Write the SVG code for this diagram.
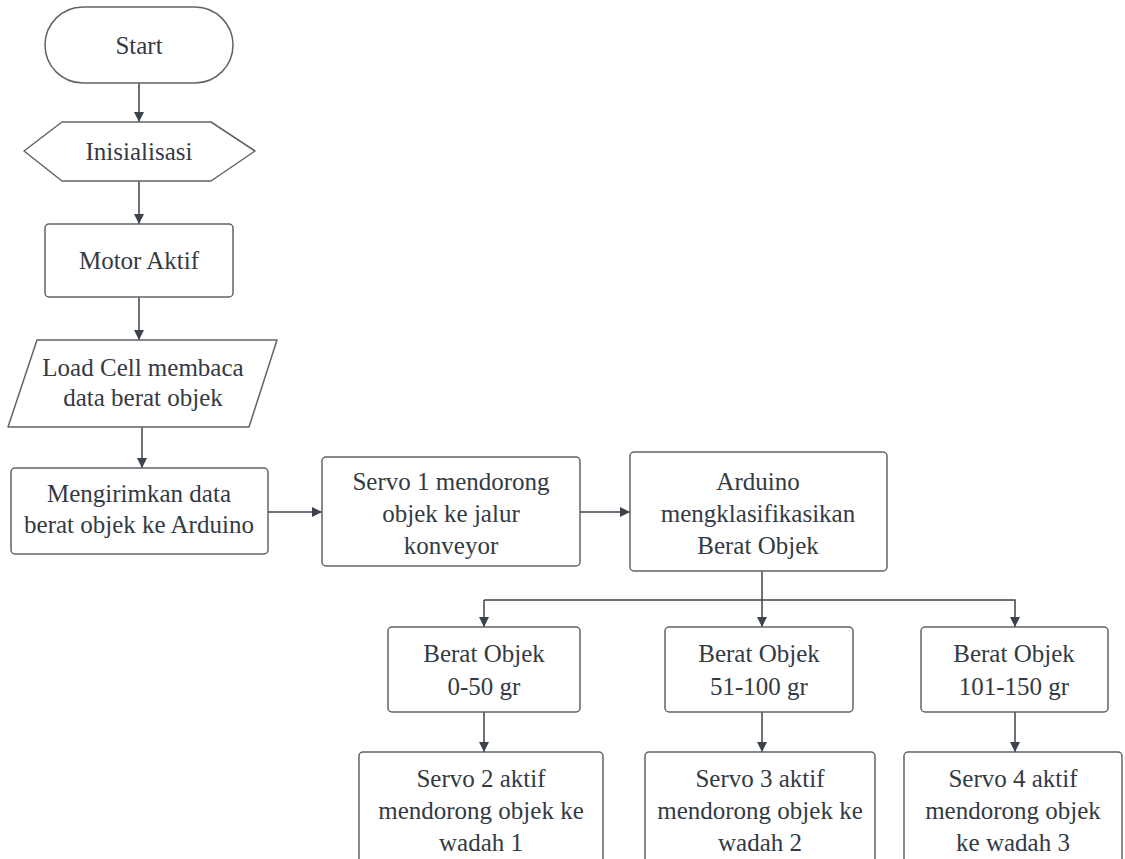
<svg xmlns="http://www.w3.org/2000/svg" width="1125" height="859" viewBox="0 0 1125 859">
<defs>
<marker id="ah" viewBox="0 0 10 10" refX="10" refY="5" markerWidth="10" markerHeight="10" markerUnits="userSpaceOnUse" orient="auto">
<path d="M0,0 L10,5 L0,10 Z" fill="#3d434c"/>
</marker>
<style>
.s{fill:#ffffff;stroke:#5f646b;stroke-width:1.5}
text{font-family:'Liberation Serif','Tinos','Times New Roman',serif;font-size:25px;fill:#333a44;text-anchor:middle}
.c{fill:none;stroke:#3d434c;stroke-width:1.5;marker-end:url(#ah)}
.l{fill:none;stroke:#3d434c;stroke-width:1.5}
</style>
</defs>
<rect width="1125" height="859" fill="#ffffff"/>
<g id="connectors">
<path class="c" d="M139,83 V122"/>
<path class="c" d="M139,181 V224"/>
<path class="c" d="M139,297 V340"/>
<path class="c" d="M142,427 V468"/>
<path class="c" d="M268,512 H322"/>
<path class="c" d="M580,512 H630"/>
<path class="l" d="M762,571 V600"/>
<path class="c" d="M484,600 H1015 V627"/>
<path class="c" d="M484,600 V627"/>
<path class="c" d="M762,600 V627"/>
<path class="c" d="M484,712 V752"/>
<path class="c" d="M762,712 V752"/>
<path class="c" d="M1015,712 V752"/>
</g>
<g id="start">
<rect class="s" x="45" y="7" width="188" height="76" rx="38" ry="38"/>
<text x="139" y="54" font-family="Liberation Serif">Start</text>
</g>
<g id="inisialisasi">
<path class="s" d="M62,122 H211 L255,151 L211,181 H62 L24,151 Z" stroke-linejoin="round"/>
<text x="139" y="160" font-family="Liberation Serif">Inisialisasi</text>
</g>
<g id="motor">
<rect class="s" x="45" y="224" width="188" height="73" rx="4"/>
<text x="139" y="269" font-family="Liberation Serif">Motor Aktif</text>
</g>
<g id="loadcell">
<path class="s" d="M37,340 H277 L249,427 H8 Z" stroke-linejoin="round"/>
<text x="143" y="376" font-family="Liberation Serif">Load Cell membaca</text>
<text x="143" y="406" font-family="Liberation Serif">data berat objek</text>
</g>
<g id="kirim">
<rect class="s" x="11" y="468" width="257" height="86" rx="4"/>
<text x="139" y="502" font-family="Liberation Serif">Mengirimkan data</text>
<text x="139" y="533" font-family="Liberation Serif">berat objek ke Arduino</text>
</g>
<g id="servo1">
<rect class="s" x="322" y="457" width="258" height="109" rx="4"/>
<text x="451" y="490" font-family="Liberation Serif">Servo 1 mendorong</text>
<text x="451" y="522" font-family="Liberation Serif">objek ke jalur</text>
<text x="451" y="554" font-family="Liberation Serif">konveyor</text>
</g>
<g id="arduino">
<rect class="s" x="630" y="452" width="257" height="119" rx="4"/>
<text x="758" y="490" font-family="Liberation Serif">Arduino</text>
<text x="758" y="522" font-family="Liberation Serif">mengklasifikasikan</text>
<text x="758" y="554" font-family="Liberation Serif">Berat Objek</text>
</g>
<g id="berat1">
<rect class="s" x="388" y="627" width="192" height="85" rx="4"/>
<text x="484" y="662" font-family="Liberation Serif">Berat Objek</text>
<text x="484" y="695" font-family="Liberation Serif">0-50 gr</text>
</g>
<g id="berat2">
<rect class="s" x="665" y="627" width="188" height="85" rx="4"/>
<text x="759" y="662" font-family="Liberation Serif">Berat Objek</text>
<text x="759" y="695" font-family="Liberation Serif">51-100 gr</text>
</g>
<g id="berat3">
<rect class="s" x="921" y="627" width="187" height="85" rx="4"/>
<text x="1014" y="662" font-family="Liberation Serif">Berat Objek</text>
<text x="1014" y="695" font-family="Liberation Serif">101-150 gr</text>
</g>
<g id="servo2">
<rect class="s" x="359" y="752" width="244" height="120" rx="4"/>
<text x="481" y="787" font-family="Liberation Serif">Servo 2 aktif</text>
<text x="481" y="819" font-family="Liberation Serif">mendorong objek ke</text>
<text x="481" y="851" font-family="Liberation Serif">wadah 1</text>
</g>
<g id="servo3">
<rect class="s" x="645" y="752" width="230" height="120" rx="4"/>
<text x="760" y="787" font-family="Liberation Serif">Servo 3 aktif</text>
<text x="760" y="819" font-family="Liberation Serif">mendorong objek ke</text>
<text x="760" y="851" font-family="Liberation Serif">wadah 2</text>
</g>
<g id="servo4">
<rect class="s" x="904" y="752" width="218" height="120" rx="4"/>
<text x="1013" y="787" font-family="Liberation Serif">Servo 4 aktif</text>
<text x="1013" y="819" font-family="Liberation Serif">mendorong objek</text>
<text x="1013" y="851" font-family="Liberation Serif">ke wadah 3</text>
</g>
</svg>
